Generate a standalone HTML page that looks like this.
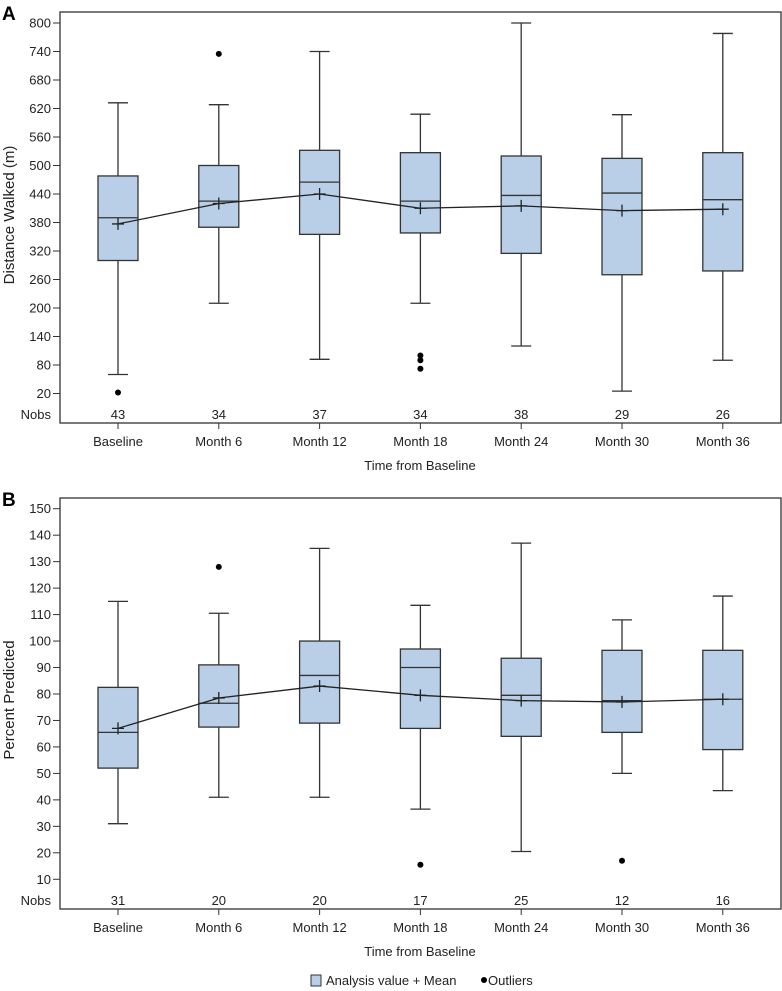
<!DOCTYPE html>
<html><head><meta charset="utf-8"><style>
html,body{margin:0;padding:0;background:#fff;width:782px;height:991px;overflow:hidden}
svg{display:block;font-family:"Liberation Sans",Arial,sans-serif}
</style></head><body>
<svg id="c" width="782" height="991" viewBox="0 0 782 991"></svg>
<script>
const categories=["Baseline","Month 6","Month 12","Month 18","Month 24","Month 30","Month 36"];
// Panel A: Distance walked
const aNobs=[43,34,37,34,38,29,26];
const aLow=[60,210,92,210,120,25,90];
const aQ1=[300,370,355,358,315,270,278];
const aMed=[390,425,465,425,437,442,428];
const aQ3=[478,500,532,527,520,515,527];
const aHigh=[632,628,740,608,800,607,778];
const aMean=[377,420,440,410,415,405,408];
const aOut=[[22],[735],[],[100,90,72],[],[],[]];
const aTicks=[800,740,680,620,560,500,440,380,320,260,200,140,80,20];
// Panel B: Percent predicted
const bNobs=[31,20,20,17,25,12,16];
const bLow=[31,41,41,36.5,20.5,50,43.5];
const bQ1=[52,67.5,69,67,64,65.5,59];
const bMed=[65.5,76.5,87,90,79.5,77.5,78];
const bQ3=[82.5,91,100,97,93.5,96.5,96.5];
const bHigh=[115,110.5,135,113.5,137,108,117];
const bMean=[67,78.5,83,79.5,77.5,77,78];
const bOut=[[],[128],[],[15.5],[],[17],[]];
const bTicks=[150,140,130,120,110,100,90,80,70,60,50,40,30,20,10];

const NS="http://www.w3.org/2000/svg";
const svg=document.getElementById('c');
function mk(tag,attrs,parent,text){const e=document.createElementNS(NS,tag);for(const k in attrs)e.setAttribute(k,attrs[k]);if(text!==undefined)e.textContent=text;(parent||svg).appendChild(e);return e;}
const X0=60,X1=781;
const xPos=i=>118+i*100.8;

function panel(p){
  const g=mk('g',{});
  
  
  const y=v=>p.yTop+(p.vTop-v)*p.scale;
  const lbl=mk('text',{x:2,y:p.top+8,'font-size':19,'font-weight':'bold',fill:'#000'},g,p.letter);
  
  
  const fr=mk('rect',{x:X0,y:p.top,width:X1-X0,height:p.bottom-p.top,fill:'none',stroke:'#333','stroke-width':1.3},g);
  
  
  p.ticks.forEach(t=>{
    const yy=y(t);
    const tl=mk('line',{x1:53,x2:X0,y1:yy,y2:yy,stroke:'#333','stroke-width':1},g);
    
    
    const tt=mk('text',{x:51,y:yy+4.5,'text-anchor':'end','font-size':13,fill:'#222'},g,t);
    
    
  });
  const yt=mk('text',{x:0,y:0,'font-size':15,fill:'#222','text-anchor':'middle',transform:`translate(14,${p.titleY}) rotate(-90)`},g,p.yTitle);
  
  
  const nl=mk('text',{x:51,y:p.bottom-4,'text-anchor':'end','font-size':13,fill:'#222'},g,'Nobs');
  
  
  const pts=p.mean.map((m,i)=>xPos(i)+','+y(m)).join(' ');
  categories.forEach((c,i)=>{
    const cx=xPos(i),hw=20;
    const wk=mk('line',{x1:cx,x2:cx,y1:y(p.high[i]),y2:y(p.low[i]),stroke:'#333','stroke-width':1.3},g);
    
    
    [p.high[i],p.low[i]].forEach(v=>{
      const cap=mk('line',{x1:cx-10,x2:cx+10,y1:y(v),y2:y(v),stroke:'#333','stroke-width':1.3},g);
      
      
    });
    const bx=mk('rect',{x:cx-hw,y:y(p.q3[i]),width:hw*2,height:y(p.q1[i])-y(p.q3[i]),fill:'#b8cfe7',stroke:'#333','stroke-width':1.3},g);
    
    
    const md=mk('line',{x1:cx-hw,x2:cx+hw,y1:y(p.med[i]),y2:y(p.med[i]),stroke:'#333','stroke-width':1.3},g);
    
    
    p.out[i].forEach(v=>{
      const o=mk('circle',{cx:cx,cy:y(v),r:3,fill:'#000'},g);
      
      
    });
    const xt=mk('line',{x1:cx,x2:cx,y1:p.bottom,y2:p.bottom+6,stroke:'#333','stroke-width':1},g);
    
    
    const xl=mk('text',{x:cx,y:p.bottom+23,'text-anchor':'middle','font-size':13,fill:'#222'},g,c);
    
    
    const nb=mk('text',{x:cx,y:p.bottom-4,'text-anchor':'middle','font-size':13,fill:'#222'},g,p.nobs[i]);
    
    
  });
  const ml=mk('polyline',{points:pts,fill:'none',stroke:'#222','stroke-width':1.3},g);
  
  
  p.mean.forEach((m,i)=>{
    const cx=xPos(i),cy=y(m);
    const mm=mk('path',{d:`M${cx-6},${cy}H${cx+6}M${cx},${cy-6}V${cy+6}`,stroke:'#222','stroke-width':1.3},g);
    
    
  });
  const xt=mk('text',{x:420,y:p.bottom+47,'text-anchor':'middle','font-size':13,fill:'#222'},g,'Time from Baseline');
  
  
}
panel({name:'panel-a-distance-walked',letter:'A',top:12,bottom:423,yTop:23,vTop:800,scale:28.5/60,ticks:aTicks,yTitle:'Distance Walked (m)',titleY:215,
  nobs:aNobs,low:aLow,q1:aQ1,med:aMed,q3:aQ3,high:aHigh,mean:aMean,out:aOut});
panel({name:'panel-b-percent-predicted',letter:'B',top:498,bottom:909,yTop:508.7,vTop:150,scale:26.47/10,ticks:bTicks,yTitle:'Percent Predicted',titleY:700,
  nobs:bNobs,low:bLow,q1:bQ1,med:bMed,q3:bQ3,high:bHigh,mean:bMean,out:bOut});
const lg=mk('g',{});


const ls=mk('rect',{x:311,y:975,width:10,height:11,fill:'#b8cfe7',stroke:'#333','stroke-width':1},lg);


const lt=mk('text',{x:326,y:985,'font-size':13,fill:'#222'},lg,'Analysis value + Mean');


const ld=mk('circle',{cx:484,cy:980,r:3,fill:'#000'},lg);


const lo=mk('text',{x:488,y:985,'font-size':13,fill:'#222'},lg,'Outliers');


</script>
</body></html>
